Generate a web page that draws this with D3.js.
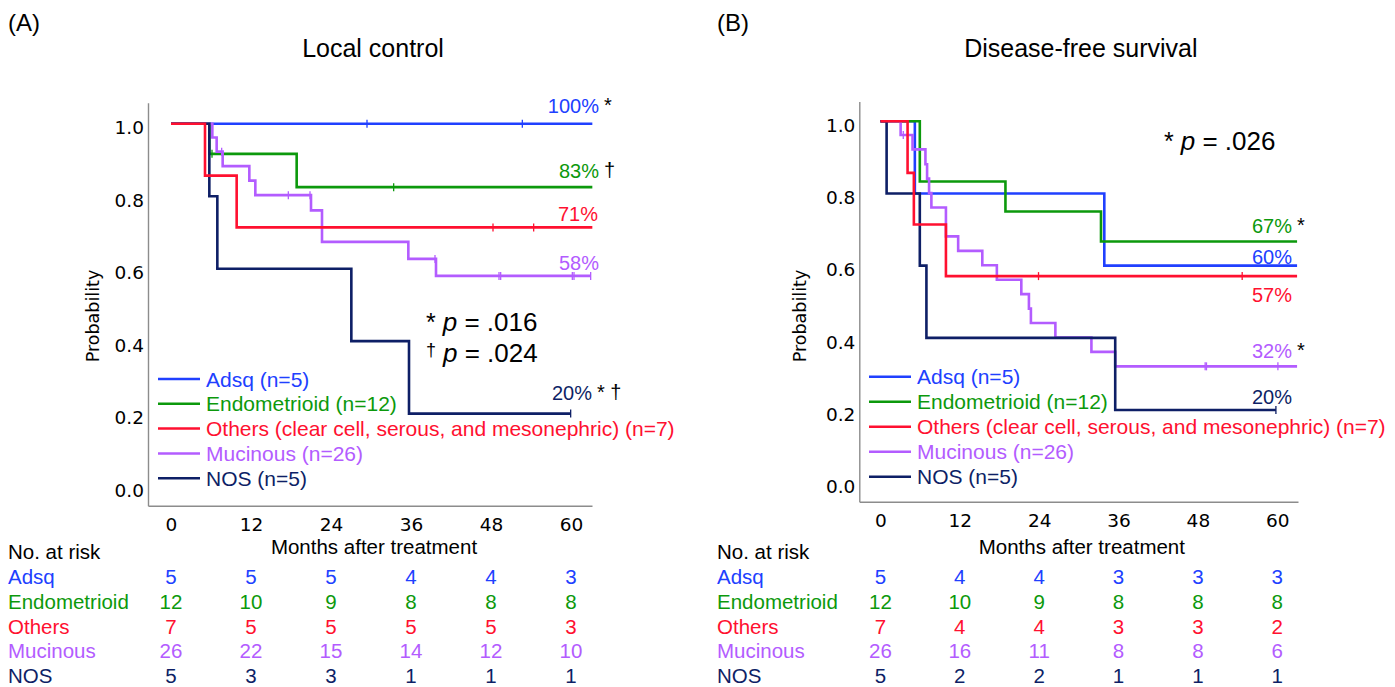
<!DOCTYPE html>
<html lang="en">
<head>
<meta charset="utf-8">
<title>Local control and disease-free survival</title>
<script src="https://d3js.org/d3.v7.min.js"></script>
<style>
  body { margin: 0; background: #fff; }
  text { font-family: "Liberation Sans", Arial, sans-serif; }
  .tick text { font-family: "DejaVu Sans", sans-serif; font-size: 18.5px; fill: #000; }
</style>
</head>
<body>
<svg id="fig" width="1395" height="687"></svg>
<script>
// ---- data ----
var groups = ["Adsq", "Endometrioid", "Others", "Mucinous", "NOS"];
var legendNames = ["Adsq (n=5)", "Endometrioid (n=12)",
  "Others (clear cell, serous, and mesonephric) (n=7)", "Mucinous (n=26)", "NOS (n=5)"];
var drawOrder = ["Adsq", "Endometrioid", "Mucinous", "NOS", "Others"];
var colors = { Adsq: "#2040ff", Endometrioid: "#0c990c", Others: "#ff1030", Mucinous: "#b35cff", NOS: "#0e1f66" };
var riskTimes = [0, 12, 24, 36, 48, 60];
var yTicks = [0, 0.2, 0.4, 0.6, 0.8, 1.0];

// local control: steps [month, probability], censor months, last month
var lcAdsq = [[0, 1]];
var lcAdsqCens = [29.4, 52.7];
var lcAdsqEnd = 63.2;
var lcEndo = [[0, 1], [5.75, 0.917], [18.85, 0.825]];
var lcEndoCens = [6.15, 33.4];
var lcEndoEnd = 63.2;
var lcOthers = [[0, 1], [5.1, 0.857], [9.85, 0.714]];
var lcOthersCens = [48.3, 54.4];
var lcOthersEnd = 63.2;
var lcMuc = [[0, 1], [6.2, 0.962], [6.85, 0.923], [7.75, 0.883], [11.75, 0.843], [12.65, 0.803],
  [21.0, 0.761], [22.65, 0.674], [35.6, 0.627], [39.75, 0.580]];
var lcMucCens = [7.6, 17.6, 20.85, 39.6, 49.2, 49.45, 60.2, 60.45, 62.95];
var lcMucEnd = 62.95;
var lcNos = [[0, 1], [5.75, 0.8], [6.95, 0.6], [27.05, 0.4], [35.7, 0.2]];
var lcNosCens = [59.95];
var lcNosEnd = 59.95;

// disease-free survival
var dfsAdsq = [[0, 1], [5.2, 0.8], [33.85, 0.6]];
var dfsAdsqCens = [];
var dfsAdsqEnd = 63.0;
var dfsEndo = [[0, 1], [5.95, 0.833], [18.9, 0.75], [33.35, 0.667]];
var dfsEndoCens = [];
var dfsEndoEnd = 63.0;
var dfsOthers = [[0, 1], [4.1, 0.857], [5.05, 0.714], [9.9, 0.571]];
var dfsOthersCens = [23.9, 54.7];
var dfsOthersEnd = 63.0;
var dfsMuc = [[0, 1], [3.05, 0.962], [4.85, 0.922], [6.8, 0.881], [7.05, 0.841], [7.35, 0.801],
  [7.7, 0.761], [9.9, 0.681], [11.75, 0.641], [15.4, 0.601], [17.6, 0.561], [21.3, 0.521],
  [22.45, 0.481], [22.75, 0.441], [26.45, 0.401], [31.9, 0.361], [35.5, 0.321]];
var dfsMucCens = [3.45, 49.1, 49.3, 60.1];
var dfsMucEnd = 63.0;
var dfsNos = [[0, 1], [0.93, 0.8], [5.95, 0.6], [6.95, 0.4], [35.5, 0.2]];
var dfsNosCens = [59.8];
var dfsNosEnd = 59.8;

// numbers at risk
var lcRisk = { Adsq: [5, 5, 5, 4, 4, 3], Endometrioid: [12, 10, 9, 8, 8, 8], Others: [7, 5, 5, 5, 5, 3],
  Mucinous: [26, 22, 15, 14, 12, 10], NOS: [5, 3, 3, 1, 1, 1] };
var dfsRisk = { Adsq: [5, 4, 4, 3, 3, 3], Endometrioid: [12, 10, 9, 8, 8, 8], Others: [7, 4, 4, 3, 3, 2],
  Mucinous: [26, 16, 11, 8, 8, 6], NOS: [5, 2, 2, 1, 1, 1] };

// end labels: [group, text, mark]
var lcEndLabels = [["Adsq", "100%", "*"], ["Endometrioid", "83%", "\u2020"], ["Others", "71%", ""],
  ["Mucinous", "58%", ""], ["NOS", "20%", "* \u2020"]];
var dfsEndLabels = [["Endometrioid", "67%", "*"], ["Adsq", "60%", ""], ["Others", "57%", ""],
  ["Mucinous", "32%", "*"], ["NOS", "20%", ""]];

var panels = [
  { tag: "(A)", title: "Local control",
    curves: {
      Adsq: [lcAdsq, lcAdsqCens, lcAdsqEnd], Endometrioid: [lcEndo, lcEndoCens, lcEndoEnd],
      Others: [lcOthers, lcOthersCens, lcOthersEnd], Mucinous: [lcMuc, lcMucCens, lcMucEnd],
      NOS: [lcNos, lcNosCens, lcNosEnd] },
    risk: lcRisk, endLabels: lcEndLabels,
    pvals: [["*", ".016"], ["\u2020", ".024"]],
    // layout
    ox: 0, xDom: [-3.45, 63.15], xRange: [148, 592], yDom: [-0.0543, 1.0579], yRange: [505.7, 102.8],
    labY: [113, 178, 221, 270, 400], labX: [599, 599, 598, 599, 592],
    pX: 426, pY: [331, 362], legX: 158, legY: 379, legDy: 24.8, ylabX: 93 },
  { tag: "(B)", title: "Disease-free survival",
    curves: {
      Adsq: [dfsAdsq, dfsAdsqCens, dfsAdsqEnd], Endometrioid: [dfsEndo, dfsEndoCens, dfsEndoEnd],
      Others: [dfsOthers, dfsOthersCens, dfsOthersEnd], Mucinous: [dfsMuc, dfsMucCens, dfsMucEnd],
      NOS: [dfsNos, dfsNosCens, dfsNosEnd] },
    risk: dfsRisk, endLabels: dfsEndLabels,
    pvals: [["*", ".026"]],
    ox: 709, xDom: [-3.2, 63.14], xRange: [859.3, 1298], yDom: [-0.054, 1.055], yRange: [501.7, 101.4],
    labY: [232.5, 263.5, 302, 358, 403.5], labX: [1292, 1292, 1292, 1292, 1292],
    pX: 1164, pY: [150], legX: 869, legY: 376.7, legDy: 25, ylabX: 800 }
];

var svg = d3.select("#fig");

function survAt(steps, t) {
  var s = 1;
  steps.forEach(function(p) { if (p[0] <= t) s = p[1]; });
  return s;
}

panels.forEach(function(P) {
  var x = d3.scaleLinear().domain(P.xDom).range(P.xRange);
  var y = d3.scaleLinear().domain(P.yDom).range(P.yRange);
  var g = svg.append("g");
  var cx = (x(0) + x(60)) / 2;

  g.append("text").attr("x", P.ox + 8).attr("y", 31).attr("font-size", "24px").text(P.tag);
  g.append("text").attr("x", cx + 2).attr("y", 57).attr("text-anchor", "middle")
    .attr("font-size", "25px").text(P.title);

  // axes
  var ya = g.append("g").attr("transform", "translate(" + P.xRange[0] + ",0)")
    .call(d3.axisLeft(y).tickValues(yTicks).tickSize(0).tickPadding(4).tickFormat(d3.format(".1f")));
  ya.selectAll(".tick text").attr("dy", "0.55em");
  g.append("g").attr("transform", "translate(0," + P.yRange[0] + ")")
    .call(d3.axisBottom(x).tickValues(riskTimes).tickSize(0).tickPadding(12));
  g.selectAll(".domain").attr("stroke", "#8c8c8c").attr("stroke-width", 1.4);

  g.append("text").attr("transform", "translate(" + P.ylabX + "," + 316 + ") rotate(-90)")
    .attr("text-anchor", "middle").attr("dominant-baseline", "central")
    .style("font-family", "'DejaVu Sans', sans-serif").attr("font-size", "17.5px").text("Probability");

  g.append("text").attr("x", cx + 3).attr("y", 554).attr("text-anchor", "middle")
    .attr("font-size", "20.5px").text("Months after treatment");

  // curves
  var line = d3.line().x(function(d) { return x(d[0]); }).y(function(d) { return y(d[1]); })
    .curve(d3.curveStepAfter);
  drawOrder.forEach(function(k) {
    var c = P.curves[k], steps = c[0], cens = c[1], end = c[2];
    var pts = steps.concat([[end, steps[steps.length - 1][1]]]);
    g.append("path").datum(pts).attr("d", line).attr("fill", "none")
      .attr("stroke", colors[k]).attr("stroke-width", 2.6);
    g.selectAll(null).data(cens).enter().append("line")
      .attr("x1", function(d) { return x(d); }).attr("x2", function(d) { return x(d); })
      .attr("y1", function(d) { return y(survAt(steps, d)) - 4; })
      .attr("y2", function(d) { return y(survAt(steps, d)) + 4; })
      .attr("stroke", colors[k]).attr("stroke-width", 1.3);
  });

  // end labels
  P.endLabels.forEach(function(L, i) {
    g.append("text").attr("x", P.labX[i]).attr("y", P.labY[i]).attr("text-anchor", "end")
      .attr("font-size", "20px").attr("fill", colors[L[0]]).text(L[1]);
    if (L[2]) {
      g.append("text").attr("x", P.labX[i] + 5).attr("y", P.labY[i] - 1).attr("font-size", "20px")
        .attr("fill", "#000").text(L[2]);
    }
  });

  // p values
  P.pvals.forEach(function(pv, i) {
    var star = pv[0] === "*";
    var t = g.append("text").attr("x", P.pX).attr("y", P.pY[i]).attr("font-size", "26px").attr("fill", "#000");
    t.append("tspan").attr("font-size", star ? "25px" : "18px").attr("dy", star ? 0 : -6).text(pv[0]);
    t.append("tspan").attr("dx", 7).attr("dy", star ? 0 : 6).attr("font-style", "italic").text("p");
    t.append("tspan").text(" = " + pv[1]);
  });

  // legend
  groups.forEach(function(k, i) {
    var ly = P.legY + i * P.legDy;
    g.append("line").attr("x1", P.legX).attr("x2", P.legX + 42).attr("y1", ly).attr("y2", ly)
      .attr("stroke", colors[k]).attr("stroke-width", 2.5);
    g.append("text").attr("x", P.legX + 48).attr("y", ly + 7.5).attr("font-size", "21px")
      .attr("fill", colors[k]).text(legendNames[i]);
  });

  // numbers at risk
  g.append("text").attr("x", P.ox + 8).attr("y", 559).attr("font-size", "20.5px").text("No. at risk");
  groups.forEach(function(k, i) {
    var ry = 584 + i * 24.8;
    g.append("text").attr("x", P.ox + 8).attr("y", ry).attr("font-size", "20.5px")
      .attr("fill", colors[k]).text(k);
    g.selectAll(null).data(P.risk[k]).enter().append("text")
      .attr("x", function(d, j) { return x(riskTimes[j]); }).attr("y", ry)
      .attr("text-anchor", "middle").attr("font-size", "20.5px").attr("fill", colors[k])
      .text(function(d) { return d; });
  });
});
</script>
</body>
</html>
